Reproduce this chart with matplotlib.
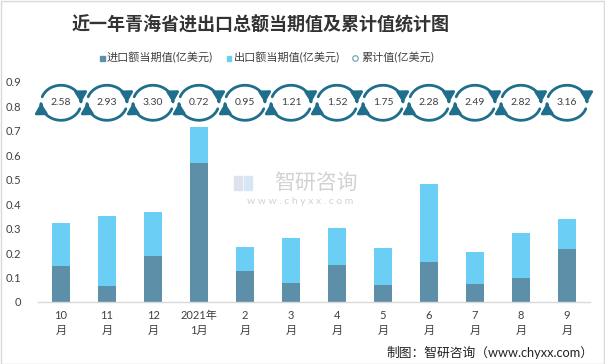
import matplotlib
matplotlib.use('Agg')
import matplotlib.pyplot as plt
from matplotlib.patches import FancyArrowPatch, Rectangle
from matplotlib.lines import Line2D
from matplotlib.path import Path
import numpy as np

plt.rcParams['font.family'] = ['Lato', 'Noto Sans CJK SC', 'DejaVu Sans']

months = ['10\n月', '11\n月', '12\n月', '2021年\n1月', '2\n月', '3\n月',
          '4\n月', '5\n月', '6\n月', '7\n月', '8\n月', '9\n月']
import_vals = [0.149, 0.067, 0.190, 0.569, 0.127, 0.078, 0.151, 0.071, 0.164, 0.074, 0.098, 0.217]
export_vals = [0.174, 0.285, 0.178, 0.145, 0.098, 0.185, 0.152, 0.150, 0.319, 0.131, 0.184, 0.123]
cumulative = [2.58, 2.93, 3.30, 0.72, 0.95, 1.21, 1.52, 1.75, 2.28, 2.49, 2.82, 3.16]
yticks = [0, 0.1, 0.2, 0.3, 0.4, 0.5, 0.6, 0.7, 0.8, 0.9]
ytick_labels = ['0', '0.1', '0.2', '0.3', '0.4', '0.5', '0.6', '0.7', '0.8', '0.9']
legend_labels = ['进口额当期值(亿美元)', '出口额当期值(亿美元)', '累计值(亿美元)']
title = '近一年青海省进出口总额当期值及累计值统计图'

DARK = '#5D90A8'
LIGHT = '#6BCEF5'
TEAL = '#1F6E8C'
TXT = '#404040'
W, H = 605, 364

def fx(px):
    return px / W

def fy(py):
    return 1 - py / H

fig = plt.figure(figsize=(W / 100, H / 100), dpi=100)
ax = fig.add_axes([fx(38), 62 / H, 552 / W, 220 / H])
x = np.arange(len(months))
ax.bar(x, import_vals, width=0.4, color=DARK, zorder=2)
ax.bar(x, export_vals, bottom=import_vals, width=0.4, color=LIGHT, zorder=2)
ax.set_xlim(-0.5, len(months) - 0.5)
ax.set_ylim(0, 0.9)
ax.set_yticks(yticks)
ax.set_yticklabels(ytick_labels)
ax.set_xticks(x)
ax.set_xticklabels(months, linespacing=1.35)
for s in ['left', 'right', 'top']:
    ax.spines[s].set_visible(False)
ax.spines['bottom'].set_color('#D9D9D9')
ax.spines['bottom'].set_linewidth(1)
ax.tick_params(axis='both', length=0, labelsize=8, colors=TXT)
ax.tick_params(axis='y', pad=12)
ax.tick_params(axis='x', pad=6)

# cumulative icons
icon_y = 0.815
sx = ax.bbox.width / len(months)
sy = ax.bbox.height / 0.9
a = 20.0 / sx
b = 17.5 / sy
for i, v in enumerate(cumulative):
    for t0, t1 in [(160, 0), (-20, -180)]:
        t = np.deg2rad(np.linspace(t0, t1, 60))
        verts = np.column_stack([i + a * np.cos(t), icon_y + b * np.sin(t)])
        arr = FancyArrowPatch(path=Path(verts),
                              arrowstyle='-|>,head_length=0.6,head_width=0.36',
                              mutation_scale=10, color=TEAL, lw=2.0,
                              clip_on=False, zorder=3)
        ax.add_patch(arr)
    ax.text(i, icon_y, f'{v:.2f}', ha='center', va='center', fontsize=7.5,
            color=TXT, zorder=4)

# title
fig.text(fx(261), fy(24), title, ha='center', va='center', fontsize=13,
         fontweight='bold', color='#333333')

# legend
sq = 5
for px, col in [(102, DARK), (229, LIGHT)]:
    fig.patches.append(Rectangle((fx(px - sq / 2), fy(58 + sq / 2)), sq / W, sq / H,
                                 transform=fig.transFigure, color=col, figure=fig))
fig.add_artist(Line2D([fx(355)], [fy(58)], marker='o', markersize=4,
                      markerfacecolor='white', markeredgecolor='#6A9AB0',
                      markeredgewidth=0.8, transform=fig.transFigure))
for px, lab in zip([107, 234, 361], legend_labels):
    fig.text(fx(px), fy(58), lab, ha='left', va='center', fontsize=8, color=TXT)

# watermark
fig.patches.append(Rectangle((fx(234), fy(190)), 8 / W, 14 / H, transform=fig.transFigure,
                             color='#DCE3EE', figure=fig))
fig.patches.append(Rectangle((fx(244), fy(190)), 8 / W, 14 / H, transform=fig.transFigure,
                             color='#D6E6F4', figure=fig))
fig.text(fx(316), fy(183), '智研咨询', ha='center', va='center', fontsize=15,
         color='#D2D2D2')
fig.text(fx(300), fy(202), 'w w w . c h y x x . c o m', ha='center', va='center',
         fontsize=7.5, color='#D2D2D2')

# source
fig.text(fx(593), fy(352), '制图：智研咨询（www.chyxx.com）', ha='right', va='center',
         fontsize=9.2, color='#222222')

# border
fig.patches.append(Rectangle((0.5 / W, 0.5 / H), 1 - 1.5 / W, 1 - 1.5 / H,
                             transform=fig.transFigure, fill=False,
                             edgecolor='#D9D9D9', lw=1, figure=fig))

fig.savefig('out.png', dpi=100)
